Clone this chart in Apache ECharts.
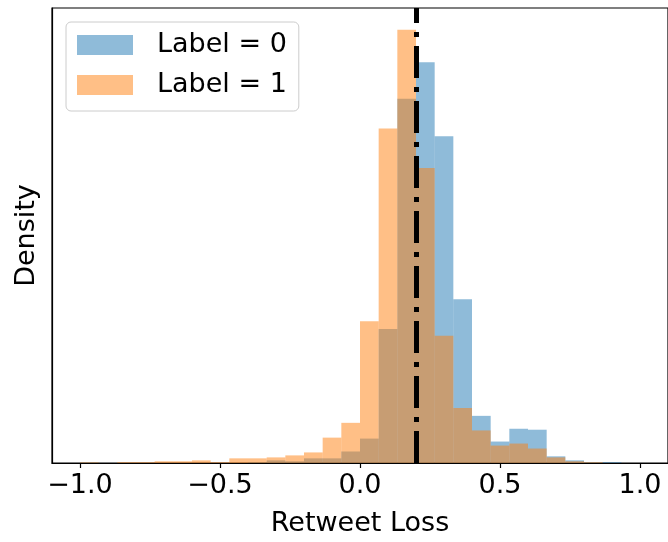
<!DOCTYPE html>
<html>
<head>
<meta charset="utf-8">
<script src="https://cdn.jsdelivr.net/npm/echarts@6/dist/echarts.min.js"></script>
<style>
html,body{margin:0;padding:0;background:#fff;}
#chart{width:668px;height:542px;}
</style>
</head>
<body>
<div id="chart"></div>
<script>
// Histogram bins: 30 bins over [-1, 1]
const BIN_MIN = -1;
const BIN_WIDTH = 2 / 30;
// Density per bin
const label0Density = [0.007, 0, 0, 0, 0, 0, 0, 0, 0, 0.007,
  0.025, 0.016, 0.044, 0.044, 0.109, 0.231, 1.268, 3.446, 3.792, 3.091,
  1.549, 0.446, 0.203, 0.324, 0.315, 0.063, 0.025, 0.007, 0.007, 0];
const label1Density = [0.007, 0, 0.007, 0.007, 0.016, 0.016, 0.025, 0.007, 0.044, 0.044,
  0.053, 0.072, 0.100, 0.240, 0.380, 1.340, 3.165, 4.100, 2.791, 1.203,
  0.520, 0.308, 0.165, 0.184, 0.137, 0.053, 0.016, 0.007, 0, 0];
const xTickValues = [-1, -0.5, 0, 0.5, 1];
const threshold = 0.2;
const seriesNames = ['Label = 0', 'Label = 1'];

function toBins(arr) {
  return arr.map((v, i) => [BIN_MIN + i * BIN_WIDTH, BIN_MIN + (i + 1) * BIN_WIDTH, v]);
}
function renderBar(params, api) {
  const x0 = api.value(0), x1 = api.value(1), h = api.value(2);
  if (!h) return null;
  const p0 = api.coord([x0, 0]);
  const p1 = api.coord([x1, h]);
  return {
    type: 'rect',
    shape: { x: p0[0], y: p1[1], width: p1[0] - p0[0], height: p0[1] - p1[1] },
    style: api.style()
  };
}
const ymax = Math.max(...label0Density, ...label1Density) * 1.05;
const FONT = 'DejaVu Sans';
const chart = echarts.init(document.getElementById('chart'), null, { renderer: 'canvas' });
chart.setOption({
  animation: false,
  backgroundColor: '#ffffff',
  grid: { left: 52, top: 8, width: 619, height: 461, show: true, borderColor: '#000', borderWidth: 1.2, backgroundColor: 'transparent' },
  legend: {
    orient: 'vertical', left: 66, top: 22,
    data: seriesNames, icon: 'rect',
    itemWidth: 56, itemHeight: 20, itemGap: 10,
    padding: [8, 12, 11, 11],
    backgroundColor: 'rgba(255,255,255,0.8)', borderColor: '#cccccc', borderWidth: 1, borderRadius: 5,
    textStyle: { fontSize: 27, fontFamily: FONT, color: '#000', lineHeight: 30, padding: [0, 0, 0, 19] }
  },
  xAxis: {
    type: 'value', min: -1.1, max: 1.1, z: 10,
    name: 'Retweet Loss', nameLocation: 'middle', nameGap: 47,
    nameTextStyle: { fontSize: 27, fontFamily: FONT, color: '#000' },
    axisLine: { show: true, onZero: false, lineStyle: { color: '#000', width: 1.2 } },
    axisTick: { show: true, inside: false, length: 5, lineStyle: { color: '#000', width: 1.2 }, customValues: xTickValues },
    axisLabel: { show: true, margin: 9, fontSize: 27, fontFamily: FONT, color: '#000', customValues: xTickValues,
      formatter: v => (v < 0 ? '\u2212' : '') + Math.abs(v).toFixed(1) },
    splitLine: { show: false }
  },
  yAxis: {
    type: 'value', min: 0, max: ymax, z: 10,
    name: 'Density', nameLocation: 'middle', nameGap: 12,
    nameTextStyle: { fontSize: 27, fontFamily: FONT, color: '#000' },
    axisLine: { show: true, onZero: false, lineStyle: { color: '#000', width: 1.2 } },
    axisTick: { show: false }, axisLabel: { show: false }, splitLine: { show: false }
  },
  series: [
    { name: seriesNames[0], type: 'custom', renderItem: renderBar, data: toBins(label0Density),
      encode: { x: [0, 1], y: 2 }, itemStyle: { color: 'rgba(31,119,180,0.5)' }, clip: true },
    { name: seriesNames[1], type: 'custom', renderItem: renderBar, data: toBins(label1Density),
      encode: { x: [0, 1], y: 2 }, itemStyle: { color: 'rgba(255,127,14,0.5)' }, clip: true,
      markLine: { silent: true, symbol: 'none', label: { show: false },
        lineStyle: { color: '#000', width: 5, type: [32, 9, 5, 9], dashOffset: 0, cap: 'butt' },
        data: [{ xAxis: threshold }] } }
  ]
});
</script>
</body>
</html>
